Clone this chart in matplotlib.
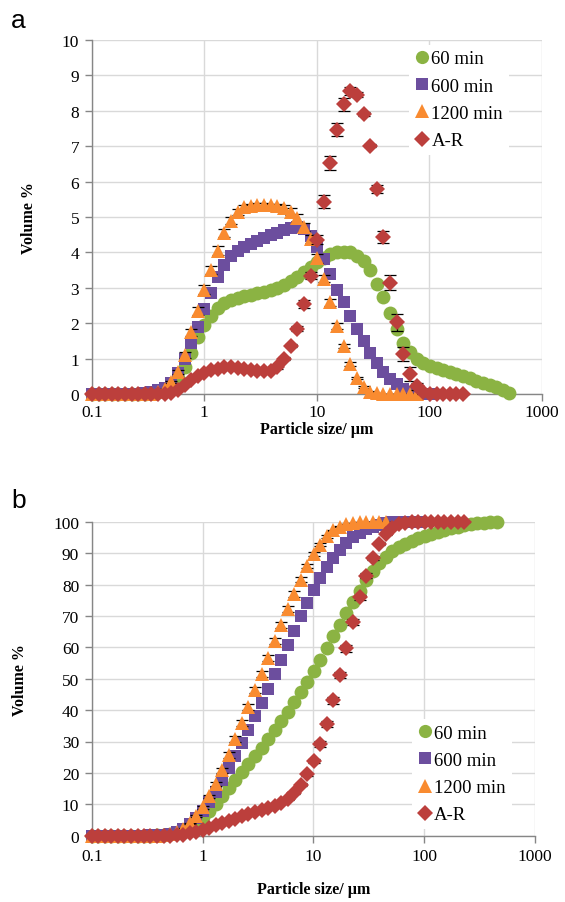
import matplotlib
matplotlib.use('Agg')
import matplotlib.pyplot as plt
from matplotlib.ticker import FixedLocator, NullLocator

plt.rcParams['font.family'] = 'Liberation Serif'

# Instrument size classes (µm)
sizes = [0.100, 0.115, 0.131, 0.150, 0.172, 0.197, 0.226, 0.259, 0.296, 0.339,
         0.389, 0.445, 0.510, 0.584, 0.669, 0.766, 0.877, 1.005, 1.151, 1.318,
         1.510, 1.729, 1.981, 2.269, 2.599, 2.976, 3.409, 3.905, 4.472, 5.122,
         5.867, 6.720, 7.697, 8.816, 10.097, 11.565, 13.246, 15.172, 17.377, 19.904,
         22.797, 26.111, 29.907, 34.255, 39.234, 44.938, 51.471, 58.953, 67.523, 77.339,
         88.583, 101.46, 116.21, 133.10, 152.45, 174.62, 200.00, 229.08, 262.38, 300.52,
         344.21, 394.24, 451.56, 517.20, 592.39]

labels = ['60 min', '600 min', '1200 min', 'A-R']

# (a) volume % per size class
vol_60 = [0, 0, 0, 0, 0, 0, 0, 0, 0, 0.02,
          0.05, 0.12, 0.25, 0.45, 0.75, 1.15, 1.6, 1.95, 2.2, 2.42,
          2.57, 2.66, 2.72, 2.76, 2.8, 2.84, 2.88, 2.93, 3.0, 3.08,
          3.18, 3.3, 3.45, 3.6, 3.72, 3.85, 3.95, 4.0, 4.02, 4.0,
          3.9, 3.75, 3.5, 3.1, 2.73, 2.3, 1.84, 1.45, 1.18, 1.0,
          0.88, 0.8, 0.74, 0.68, 0.62, 0.56, 0.5, 0.44, 0.38, 0.32,
          0.25, 0.19, 0.1, 0.03]
vol_600 = [0, 0, 0, 0, 0, 0, 0, 0, 0.02, 0.05,
           0.1, 0.18, 0.32, 0.6, 1.0, 1.45, 1.9, 2.4, 2.85, 3.3,
           3.65, 3.9, 4.05, 4.15, 4.25, 4.32, 4.4, 4.48, 4.55, 4.63,
           4.7, 4.72, 4.65, 4.45, 4.15, 3.8, 3.4, 2.95, 2.6, 2.2,
           1.85, 1.5, 1.15, 0.87, 0.62, 0.42, 0.27, 0.15, 0.07, 0.03,
           0.01, 0]
vol_1200 = [0, 0, 0, 0, 0, 0, 0, 0, 0, 0,
            0.05, 0.15, 0.35, 0.62, 1.1, 1.75, 2.35, 2.95, 3.5, 4.05,
            4.55, 4.9, 5.15, 5.27, 5.32, 5.35, 5.35, 5.33, 5.3, 5.25,
            5.15, 4.97, 4.72, 4.38, 3.83, 3.25, 2.59, 1.93, 1.36, 0.85,
            0.45, 0.2, 0.07, 0.02, 0, 0, 0, 0, 0, 0]
err_1200 = [0, 0, 0, 0, 0, 0, 0, 0, 0, 0,
            0, 0, 0.03, 0.05, 0.08, 0.1, 0.12, 0.12, 0.12, 0.12,
            0.12, 0.1, 0.08, 0.06, 0.05, 0.05, 0.05, 0.05, 0.06, 0.08,
            0.1, 0.12, 0.12, 0.12, 0.12, 0.1, 0.1, 0.08, 0.06, 0.05,
            0.03, 0.02, 0.01, 0, 0, 0, 0, 0, 0, 0]
vol_ar = [0, 0, 0, 0, 0, 0, 0, 0, 0, 0,
          0, 0, 0.02, 0.1, 0.25, 0.4, 0.52, 0.6, 0.67, 0.72,
          0.75, 0.75, 0.73, 0.7, 0.67, 0.65, 0.64, 0.66, 0.75, 1.0,
          1.37, 1.85, 2.54, 3.34, 4.36, 5.43, 6.52, 7.47, 8.18, 8.55,
          8.46, 7.91, 7.01, 5.79, 4.44, 3.14, 2.02, 1.13, 0.56, 0.22,
          0.05, 0, 0, 0, 0, 0, 0]
err_ar = [0, 0, 0, 0, 0, 0, 0, 0, 0, 0,
          0, 0, 0.01, 0.01, 0.02, 0.02, 0.02, 0.02, 0.02, 0.02,
          0.02, 0.02, 0.02, 0.02, 0.02, 0.02, 0.02, 0.02, 0.03, 0.04,
          0.05, 0.06, 0.12, 0.1, 0.12, 0.18, 0.2, 0.19, 0.18, 0.11,
          0.08, 0.05, 0.04, 0.12, 0.17, 0.21, 0.24, 0.2, 0.19, 0.1,
          0.05, 0, 0, 0, 0, 0, 0]

# (b) cumulative volume %
cum_60 = [0, 0, 0, 0, 0, 0, 0, 0, 0, 0.02,
          0.07, 0.18, 0.41, 0.83, 1.53, 2.6, 4.08, 5.9, 7.94, 10.19,
          12.58, 15.06, 17.59, 20.16, 22.76, 25.4, 28.08, 30.81, 33.6, 36.46,
          39.42, 42.49, 45.69, 49.05, 52.51, 56.09, 59.76, 63.48, 67.22, 70.94,
          74.57, 78.06, 81.31, 84.2, 86.73, 88.88, 90.59, 91.94, 93.03, 93.96,
          94.78, 95.53, 96.21, 96.85, 97.42, 97.94, 98.41, 98.82, 99.17, 99.47,
          99.7, 99.88, 99.97]
cum_600 = [0, 0, 0, 0, 0, 0, 0, 0, 0.02, 0.07,
           0.17, 0.35, 0.66, 1.26, 2.25, 3.68, 5.56, 7.93, 10.75, 14.02,
           17.63, 21.48, 25.49, 29.59, 33.8, 38.07, 42.42, 46.85, 51.36, 55.93,
           60.58, 65.25, 69.85, 74.25, 78.36, 82.11, 85.48, 88.4, 90.97, 93.15,
           94.98, 96.46, 97.6, 98.46, 99.07, 99.49, 99.75, 99.9, 99.97, 99.99,
           100]
cum_1200 = [0, 0, 0, 0, 0, 0, 0, 0, 0, 0,
            0.05, 0.2, 0.54, 1.14, 2.2, 3.9, 6.2, 9.1, 12.5, 16.5,
            20.9, 25.7, 30.7, 35.9, 41.1, 46.3, 51.5, 56.7, 61.9, 67.0,
            72.1, 76.9, 81.5, 85.8, 89.6, 92.7, 95.3, 97.2, 98.4, 99.3,
            99.7, 99.9, 100, 100, 100, 100]
cum_err_1200 = [0, 0, 0, 0, 0, 0, 0, 0, 0, 0,
                0, 0, 0, 0.1, 0.2, 0.3, 0.4, 0.5, 0.6, 0.7,
                0.8, 0.9, 0.9, 1.0, 1.0, 1.0, 1.0, 1.0, 1.0, 1.0,
                0.9, 0.9, 0.8, 0.7, 0.6, 0.5, 0.4, 0.3, 0.2, 0.1,
                0, 0, 0, 0, 0, 0]
cum_ar = [0, 0, 0, 0, 0, 0, 0, 0, 0, 0,
          0, 0, 0.02, 0.12, 0.37, 0.76, 1.28, 1.87, 2.54, 3.25,
          3.99, 4.74, 5.46, 6.15, 6.82, 7.46, 8.1, 8.75, 9.5, 10.48,
          11.84, 13.67, 16.19, 19.5, 23.82, 29.2, 35.66, 43.06, 51.17, 59.64,
          68.02, 75.86, 82.81, 88.54, 92.95, 96.06, 98.06, 99.18, 99.73, 99.95,
          100, 100, 100, 100, 100, 100, 100, 100]
cum_err_ar = [0, 0, 0, 0, 0, 0, 0, 0, 0, 0,
              0, 0, 0, 0, 0, 0, 0.1, 0.1, 0.1, 0.1,
              0.2, 0.2, 0.2, 0.2, 0.2, 0.2, 0.3, 0.3, 0.3, 0.3,
              0.4, 0.4, 0.5, 0.6, 0.7, 0.9, 1.0, 1.1, 1.1, 1.0,
              0.9, 0.8, 0.7, 0.6, 0.5, 0.4, 0.3, 0.2, 0.1, 0.1,
              0, 0, 0, 0, 0, 0, 0, 0]

colors = ['#8BB343', '#6C4E9E', '#F98B30', '#BC3F3C']
markers = ['o', 's', '^', 'D']
msizes = [10.0, 9.0, 10.5, 8.6]

fig = plt.figure(figsize=(5.65, 9.03), dpi=100)
W, H = 565, 903


def px_axes(left, top, right, bottom):
    return fig.add_axes([left / W, 1 - bottom / H, (right - left) / W, (bottom - top) / H])


def style_axes(ax, ymax, ystep, xpad, xtick_pad):
    ax.set_xscale('log')
    ax.set_xlim(0.1, 1000)
    ax.set_ylim(0, ymax)
    ax.xaxis.set_major_locator(FixedLocator([0.1, 1, 10, 100, 1000]))
    ax.xaxis.set_minor_locator(NullLocator())
    ax.set_xticklabels(['0.1', '1', '10', '100', '1000'])
    ax.set_yticks(range(0, ymax + 1, ystep))
    ax.grid(True, color='#D9D9D9', linewidth=1.0)
    ax.set_axisbelow(True)
    for s in ['top', 'right']:
        ax.spines[s].set_visible(False)
    for s in ['left', 'bottom']:
        ax.spines[s].set_color('#868686')
        ax.spines[s].set_linewidth(1.0)
    ax.tick_params(axis='both', direction='out', length=5, width=1.0, color='#868686',
                   labelsize=12.5, labelcolor='black', pad=4)
    ax.tick_params(axis='x', pad=xtick_pad)
    ax.set_xlabel('Particle size/ µm', fontsize=11.5, fontweight='bold', labelpad=xpad)
    ax.set_ylabel('Volume %', fontsize=11.5, fontweight='bold', labelpad=18)


def draw_panel(ax, series, errs, legend_anchor):
    handles = []
    for i, ys in enumerate(series):
        xs = sizes[:len(ys)]
        if errs[i] is not None:
            ax.errorbar(xs, ys, yerr=errs[i], fmt='none', ecolor='black', elinewidth=0.9,
                        capsize=4.5, capthick=0.9, zorder=3 + i * 2, clip_on=False)
        h, = ax.plot(xs, ys, linestyle='none', marker=markers[i], markersize=msizes[i],
                     color=colors[i], markeredgewidth=0, zorder=4 + i * 2, clip_on=False,
                     label=labels[i])
        handles.append(h)
    leg = ax.legend(handles=handles, loc='upper left', bbox_to_anchor=legend_anchor,
                    frameon=True, facecolor='white', edgecolor='none', framealpha=1,
                    fontsize=13.5, handlelength=0.8, handletextpad=0.1,
                    labelspacing=0.54, borderpad=0.3, borderaxespad=0, markerscale=0.95)
    leg.set_zorder(20)


ax_a = px_axes(91.7, 41, 541.7, 395)
style_axes(ax_a, 10, 1, 1, 2)
draw_panel(ax_a, [vol_60, vol_600, vol_1200, vol_ar],
           [None, None, err_1200, err_ar], (0.705, 0.987))

ax_b = px_axes(91.7, 522.7, 535, 836.7)
style_axes(ax_b, 100, 10, 12, 4)
draw_panel(ax_b, [cum_60, cum_600, cum_1200, cum_ar],
           [None, None, cum_err_1200, cum_err_ar], (0.722, 0.372))

fig.text(11 / W, 1 - 21 / H, 'a', family='Liberation Sans', fontsize=19, va='center')
fig.text(11 / W, 1 - 501 / H, 'b', family='Liberation Sans', fontsize=19, va='center')

fig.savefig('out.png', dpi=100)
